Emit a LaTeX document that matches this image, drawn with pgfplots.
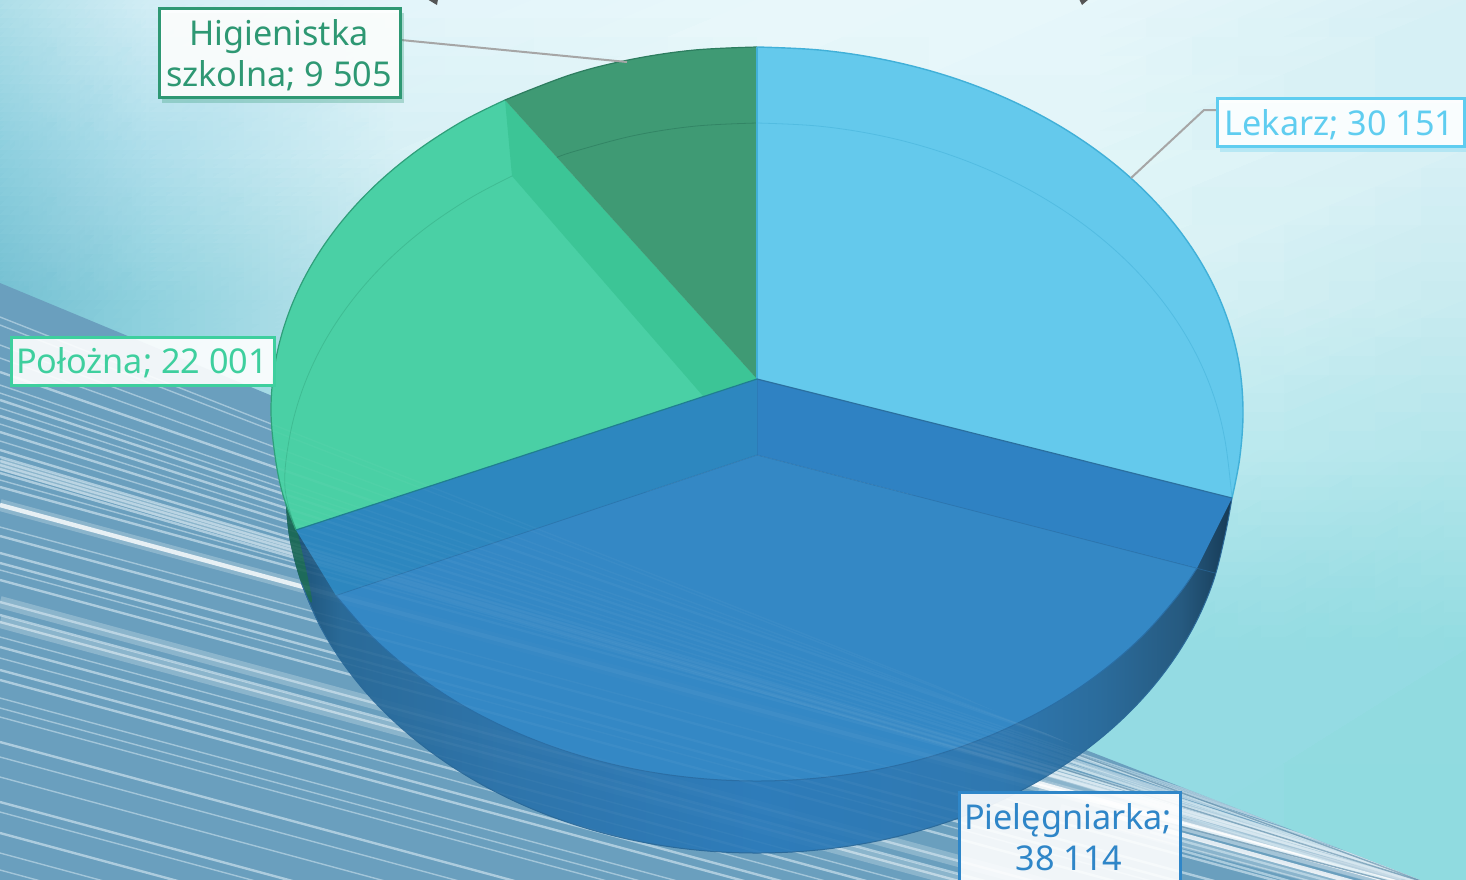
\documentclass[border=0pt]{standalone}
\usepackage{fontspec}
\setmainfont{Noto Sans}
\usepackage{pgfplots}
\pgfplotsset{compat=1.18}
\usepgfplotslibrary{patchplots}
\definecolor{cLek}{HTML}{5FCDF0}
\definecolor{cPie}{HTML}{2F86C8}
\definecolor{cPol}{HTML}{3ECF9E}
\definecolor{cHig}{HTML}{2E9873}
\definecolor{HTMLa}{HTML}{1A4D70}\definecolor{HTMLb}{HTML}{2A6A98}\definecolor{HTMLc}{HTML}{2E74AA}
\definecolor{HTMLd}{HTML}{2E7CBA}\definecolor{HTMLe}{HTML}{2F78B0}\definecolor{HTMLf}{HTML}{2B6C9C}
\definecolor{HTMLg}{HTML}{265A80}\definecolor{HTMLh}{HTML}{163A55}
\definecolor{HTMLband}{HTML}{6A9FBE}\definecolor{HTMLdk}{HTML}{5A8AA8}\definecolor{HTMLst}{HTML}{D5E9F2}
\definecolor{HTMLsliver}{HTML}{1D6A5A}\definecolor{HTMLedge}{HTML}{2B6A9A}
\definecolor{HTMLfloor}{HTML}{3488C5}\definecolor{HTMLline}{HTML}{2A6EA5}
\definecolor{HTMLwallr}{HTML}{2F82C3}\definecolor{HTMLwalll}{HTML}{2D87BF}
\definecolor{HTMLlek}{HTML}{64C9EC}\definecolor{HTMLlekl}{HTML}{41B0D8}
\definecolor{HTMLpol}{HTML}{4AD0A5}\definecolor{HTMLpolw}{HTML}{3CC596}\definecolor{HTMLpoll}{HTML}{2F9F7A}
\definecolor{HTMLhig}{HTML}{3F9A74}\definecolor{HTMLhigl}{HTML}{2D7D5F}
\definecolor{HTMLradl}{HTML}{2A6F9F}\definecolor{HTMLradg}{HTML}{1F7F90}
\definecolor{HTMLgrey}{HTML}{A6A6A6}\definecolor{HTMLstub}{HTML}{555555}
\pgfdeclarehorizontalshading{bandshade}{100bp}{
 color(0bp)=(HTMLa);color(25bp)=(HTMLa);color(28bp)=(HTMLb);color(36.4bp)=(HTMLc);
 color(50bp)=(HTMLd);color(62.8bp)=(HTMLe);color(68bp)=(HTMLf);color(72.3bp)=(HTMLg);
 color(75bp)=(HTMLh);color(100bp)=(HTMLh)}
\pgfplotsset{
 sA/.style={draw=HTMLst,line width=.7pt,opacity=.5,no markers},
 sB/.style={draw=HTMLst,line width=1.2pt,opacity=.6,no markers},
 sC/.style={draw=white,line width=2.2pt,opacity=.8,no markers},
 sD/.style={draw=white,line width=6pt,opacity=.22,no markers},
 sxA/.style={draw=white,line width=.7pt,opacity=.03,no markers},
 sxB/.style={draw=white,line width=1.2pt,opacity=.035,no markers},
 sxC/.style={draw=white,line width=2.2pt,opacity=.035,no markers},
 sxD/.style={draw=white,line width=6pt,opacity=.015,no markers},
 smo/.style={smooth,tension=.6},
}
\newcommand\St[3]{\addplot[#1] coordinates {(0,#2)(1466,#3)};}
\newcommand\stripes[1]{%
 \St{s#1A}{317}{895}\St{s#1A}{325}{893}\St{s#1A}{345}{890}\St{s#1A}{358}{885}\St{s#1B}{372}{880}\St{s#1A}{385}{885}
 \St{s#1A}{393}{885}\St{s#1B}{400}{886}\St{s#1A}{408}{888}\St{s#1B}{416}{888}\St{s#1A}{424}{890}\St{s#1B}{432}{890}\St{s#1A}{441}{892}
 \St{s#1B}{450}{892}\St{s#1D}{464}{893}\St{s#1B}{457}{890}\St{s#1B}{461}{893}\St{s#1B}{465}{892}\St{s#1B}{469}{896}\St{s#1B}{473}{895}
 \St{s#1A}{480}{890}\St{s#1B}{487}{890}\St{s#1D}{505}{901}\St{s#1C}{505}{901}\St{s#1A}{527}{923}\St{s#1B}{536}{932}\St{s#1B}{553}{949}
 \St{s#1B}{563}{959}\St{s#1A}{570}{966}\St{s#1B}{580}{976}\St{s#1D}{602}{998}\St{s#1B}{602}{998}\St{s#1B}{615}{1011}\St{s#1B}{622}{1018}\St{s#1D}{622}{1018}
 \St{s#1A}{637}{1033}\St{s#1B}{647}{1043}\St{s#1A}{658}{1054}\St{s#1B}{670}{1066}\St{s#1B}{680}{1076}\St{s#1A}{698}{1094}\St{s#1A}{708}{1104}\St{s#1A}{717}{1113}
 \St{s#1B}{742}{1138}\St{s#1A}{757}{1153}\St{s#1A}{777}{1173}\St{s#1B}{802}{1198}\St{s#1A}{812}{1208}\St{s#1B}{833}{1229}\St{s#1A}{853}{1249}\St{s#1A}{870}{1266}
}
\begin{document}
\begin{tikzpicture}
\begin{axis}[
 scale only axis, width=733pt, height=439.5pt,
 xmin=0, xmax=1466, ymin=0, ymax=879, y dir=reverse,
 hide axis, clip=true]

% background
\addplot[patch,patch type=rectangle,shader=interp,mesh/color input=explicit,
  table/meta=c] table {
x y c
0 0 .68,.87,.91
150 0 .82,.93,.96
150 150 .68,.87,.92
0 150 .55,.81,.87
150 0 .82,.93,.96
400 0 .89,.96,.98
400 150 .84,.94,.96
150 150 .68,.87,.92
400 0 .89,.96,.98
757 0 .91,.97,.98
757 150 .88,.96,.97
400 150 .84,.94,.96
757 0 .91,.97,.98
1100 0 .90,.965,.98
1100 150 .88,.96,.97
757 150 .88,.96,.97
1100 0 .90,.965,.98
1466 0 .84,.94,.96
1466 150 .84,.94,.96
1100 150 .88,.96,.97
0 150 .55,.81,.87
150 150 .68,.87,.92
150 300 .56,.82,.87
0 300 .45,.75,.82
150 150 .68,.87,.92
400 150 .84,.94,.96
400 300 .75,.90,.93
150 300 .56,.82,.87
400 150 .84,.94,.96
757 150 .88,.96,.97
757 300 .83,.94,.96
400 300 .75,.90,.93
757 150 .88,.96,.97
1100 150 .88,.96,.97
1100 300 .85,.95,.96
757 300 .83,.94,.96
1100 150 .88,.96,.97
1466 150 .84,.94,.96
1466 300 .78,.92,.94
1100 300 .85,.95,.96
0 300 .45,.75,.82
150 300 .56,.82,.87
150 450 .56,.82,.87
0 450 .45,.75,.82
150 300 .56,.82,.87
400 300 .75,.90,.93
400 450 .69,.88,.91
150 450 .56,.82,.87
400 300 .75,.90,.93
757 300 .83,.94,.96
757 450 .77,.92,.94
400 450 .69,.88,.91
757 300 .83,.94,.96
1100 300 .85,.95,.96
1100 450 .75,.92,.94
757 450 .77,.92,.94
1100 300 .85,.95,.96
1466 300 .78,.92,.94
1466 450 .70,.90,.92
1100 450 .75,.92,.94
0 450 .45,.75,.82
150 450 .56,.82,.87
150 650 .56,.82,.87
0 650 .45,.75,.82
150 450 .56,.82,.87
400 450 .69,.88,.91
400 650 .60,.85,.89
150 650 .56,.82,.87
400 450 .69,.88,.91
757 450 .77,.92,.94
757 650 .62,.87,.90
400 650 .60,.85,.89
757 450 .77,.92,.94
1100 450 .75,.92,.94
1100 650 .58,.86,.89
757 650 .62,.87,.90
1100 450 .75,.92,.94
1466 450 .70,.90,.92
1466 650 .57,.86,.88
1100 650 .58,.86,.89
0 650 .45,.75,.82
1100 650 .58,.86,.89
1100 879 .58,.86,.89
0 879 .45,.75,.82
1100 650 .58,.86,.89
1466 650 .57,.86,.88
1466 879 .56,.86,.88
1100 879 .58,.86,.89
};

% diagonal band with stripes
\addplot[fill=HTMLband,draw=none] coordinates {(0,283)(270,395)(1073,745)(1233,807)(1430,884)(0,884)} --cycle;
\begin{scope}
\clip (axis cs:0,283)--(axis cs:270,395)--(axis cs:1073,745)--(axis cs:1233,807)--(axis cs:1430,884)--(axis cs:0,884)--cycle;
\stripes{}
\addplot[sD] coordinates {(1030,770)(1420,884)};
\addplot[sD] coordinates {(1040,785)(1400,884)};
\addplot[sB] coordinates {(1050,745)(1430,884)};
\addplot[sB] coordinates {(1060,758)(1430,884)};
\addplot[sB] coordinates {(1060,763)(1430,884)};
\addplot[sC] coordinates {(1035,782)(1400,884)};
\addplot[sB] coordinates {(1060,778)(1400,884)};
\addplot[sB] coordinates {(1060,792)(1400,884)};
\addplot[sC] coordinates {(1100,812)(1360,884)};
\addplot[sD] coordinates {(1060,810)(1340,884)};
\addplot[sB] coordinates {(1150,832)(1340,884)};
\addplot[sB] coordinates {(1180,850)(1300,884)};
\addplot[draw=HTMLdk,line width=.7pt,opacity=.7,no markers] coordinates {(1060,748)(1430,884)};
\addplot[draw=HTMLdk,line width=.7pt,opacity=.7,no markers] coordinates {(1060,768)(1430,884)};
\addplot[draw=HTMLdk,line width=.7pt,opacity=.7,no markers] coordinates {(1100,805)(1400,884)};
\end{scope}

% side of the slices
\addplot[shade,shading=bandshade,draw=none,smo] coordinates {(285,488)(289,535.6)(301.1,582.5)(320.9,627.7)(348.2,670.5)(382.5,710.2)(423.2,746.1)(469.7,777.6)(521,804.1)(576.4,825.2)(634.8,840.6)(695.4,849.9)(757,853)(818.6,849.9)(879.2,840.6)(937.6,825.2)(993,804.1)(1044.3,777.6)(1090.8,746.1)(1131.5,710.2)(1165.8,670.5)(1193.1,627.7)(1212.9,582.5)(1225,535.6)(1232,498)} --cycle;
\addplot[fill=HTMLsliver,draw=none,smo] coordinates {(285,488)(289,535.6)(301.1,582.5)(312,600)(297,530)(285,488)} --cycle;
\addplot[draw=HTMLedge,line width=.5pt,smo,no markers] coordinates {(301.1,582.5)(320.9,627.7)(348.2,670.5)(382.5,710.2)(423.2,746.1)(469.7,777.6)(521,804.1)(576.4,825.2)(634.8,840.6)(695.4,849.9)(757,853)(818.6,849.9)(879.2,840.6)(937.6,825.2)(993,804.1)(1044.3,777.6)(1090.8,746.1)(1131.5,710.2)(1165.8,670.5)(1193.1,627.7)(1212.9,582.5)(1225,535.6)(1232,498)};

% floor of the blue slice (Pielegniarka; 38 114)
\addplot[fill=HTMLfloor,draw=none,smo] coordinates {(336,595.5)(371.4,635.9)(413.4,672.3)(461.1,704.4)(514,731.3)(571,752.8)(631.2,768.4)(693.6,777.8)(757,781)(820.4,777.8)(882.8,768.4)(943,752.8)(1000,731.3)(1052.9,704.4)(1100.6,672.3)(1142.6,635.9)(1177.9,595.5)(1197,568)} --cycle;
\addplot[fill=HTMLfloor,draw=none] coordinates {(757,455)(1197,568)(1052.9,704.4)(757,781)(461.1,704.4)(336,595.5)} --cycle;
\addplot[draw=HTMLline,line width=.5pt,smo,no markers] coordinates {(336,595.5)(371.4,635.9)(413.4,672.3)(461.1,704.4)(514,731.3)(571,752.8)(631.2,768.4)(693.6,777.8)(757,781)(820.4,777.8)(882.8,768.4)(943,752.8)(1000,731.3)(1052.9,704.4)(1100.6,672.3)(1142.6,635.9)(1177.9,595.5)(1197,568)};
% walls
\addplot[fill=HTMLwallr,draw=none] coordinates {(757,379)(1232,498)(1197,568)(757,455)} --cycle;
\addplot[fill=HTMLwalll,draw=none] coordinates {(757,379)(296,530)(336,595.5)(757,455)} --cycle;
\addplot[draw=HTMLline,opacity=.6,line width=.4pt,no markers] coordinates {(336,595.5)(757,455)(1215,573)};
\addplot[draw=HTMLline,opacity=.35,line width=.4pt,no markers] coordinates {(757,379)(757,455)};

% Lekarz; 30 151
\addplot[fill=HTMLlek,draw=none,smo] coordinates {(757,47)(820.4,50.1)(882.8,59.4)(943,74.6)(1000,95.6)(1052.9,122)(1100.6,153.3)(1142.6,189)(1177.9,228.5)(1206,271.1)(1226.4,316.1)(1238.8,362.6)(1243,410)(1239.8,457.4)(1232,498)} --cycle;
\addplot[fill=HTMLlek,draw=none] coordinates {(757,379)(757,47)(1100.6,153.3)(1232,498)} --cycle;
% Polozna; 22 001
\addplot[fill=HTMLpol,draw=none,smo] coordinates {(505,100)(461.1,122)(413.4,153.3)(371.4,189)(336.1,228.5)(308,271.1)(287.6,316.1)(275.2,362.6)(271,410)(275.2,457.4)(283,495)(296,530)} --cycle;
\addplot[fill=HTMLpol,draw=none] coordinates {(757,379)(505,100)(336.1,228.5)(296,530)} --cycle;
\addplot[fill=HTMLpolw,draw=none] coordinates {(505,100)(512,176)(703,396)(757,379)} --cycle;
% Higienistka szkolna; 9 505
\addplot[fill=HTMLhig,draw=none,smo] coordinates {(757,47)(693.6,50.1)(631.2,59.4)(571,74.6)(505,100)} --cycle;
\addplot[fill=HTMLhig,draw=none] coordinates {(757,379)(757,47)(631.2,59.4)(505,100)} --cycle;

% stripes and band seen through the pie
\begin{scope}
\clip (axis cs:0,283)--(axis cs:270,395)--(axis cs:1073,745)--(axis cs:1233,807)--(axis cs:1430,884)--(axis cs:0,884)--cycle;
\stripes{x}
\end{scope}

% rims and inner lines
\addplot[draw=HTMLlekl,line width=.7pt,smo,no markers] coordinates {(757,47)(820.4,50.1)(882.8,59.4)(943,74.6)(1000,95.6)(1052.9,122)(1100.6,153.3)(1142.6,189)(1177.9,228.5)(1206,271.1)(1226.4,316.1)(1238.8,362.6)(1243,410)(1239.8,457.4)(1232,498)};
\addplot[draw=HTMLlekl,opacity=.5,line width=.4pt,smo,no markers] coordinates {(757,123)(818.6,126.1)(879.2,135.4)(937.6,150.8)(993,171.9)(1044.3,198.4)(1090.8,229.9)(1131.5,265.8)(1165.8,305.5)(1193.1,348.3)(1212.9,393.5)(1225,440.4)(1232,498)};
\addplot[draw=HTMLpoll,line width=.6pt,smo,no markers] coordinates {(505,100)(461.1,122)(413.4,153.3)(371.4,189)(336.1,228.5)(308,271.1)(287.6,316.1)(275.2,362.6)(271,410)(275.2,457.4)(283,495)(296,530)};
\addplot[draw=HTMLpoll,opacity=.4,line width=.4pt,smo,no markers] coordinates {(512,176)(469.7,198.4)(423.2,229.9)(382.5,265.8)(348.2,305.5)(320.9,348.3)(301.1,393.5)(289,440.4)(285,488)(296,530)};
\addplot[draw=HTMLhigl,line width=.6pt,smo,no markers] coordinates {(757,47)(693.6,50.1)(631.2,59.4)(571,74.6)(505,100)};
\addplot[draw=HTMLhigl,opacity=.7,line width=.4pt,smo,no markers] coordinates {(757,123)(695.4,126.1)(634.8,135.4)(576.4,150.8)(557,157.3)};
\addplot[draw=HTMLlekl,line width=.8pt,no markers] coordinates {(757,47)(757,379)};
\addplot[draw=HTMLradl,line width=.6pt,no markers] coordinates {(757,379)(1232,498)};
\addplot[draw=HTMLradg,line width=.6pt,no markers] coordinates {(757,379)(296,530)};

% leader lines
\addplot[draw=HTMLgrey,line width=1pt,no markers] coordinates {(401,40)(627,62)};
\addplot[draw=HTMLgrey,line width=1pt,no markers] coordinates {(1131,178)(1204,110)(1216,110)};
\addplot[fill=HTMLstub,draw=none] coordinates {(427,-1)(438,-1)(437,5)} --cycle;
\addplot[fill=HTMLstub,draw=none] coordinates {(1089,-1)(1079,-1)(1082,5)} --cycle;

% label boxes
\addplot[fill=cHig,fill opacity=.3,draw=none] coordinates {(162,13)(404,13)(404,103)(162,103)} --cycle;
\addplot[fill=cLek,fill opacity=.3,draw=none] coordinates {(1220,103)(1468,103)(1468,152)(1220,152)} --cycle;
\addplot[fill=white,fill opacity=.93,draw=cHig,line width=1.5pt] coordinates {(159,8)(400,8)(400,97)(159,97)} --cycle;
\addplot[fill=white,fill opacity=.93,draw=cLek,line width=1.5pt] coordinates {(1217,98)(1464,98)(1464,146)(1217,146)} --cycle;
\addplot[fill=white,fill opacity=.9,draw=cPol,line width=1.5pt] coordinates {(11,337)(274,337)(274,385)(11,385)} --cycle;
\addplot[fill=white,fill opacity=.9,draw=cPie,line width=1.5pt] coordinates {(959,792)(1180,792)(1180,900)(959,900)} --cycle;
\node[anchor=base,text=cHig,inner sep=0pt,font=\fontsize{17.1}{20}\selectfont] at (axis cs:279,45) {Higienistka};
\node[anchor=base,text=cHig,inner sep=0pt,font=\fontsize{17.1}{20}\selectfont] at (axis cs:279,86) {szkolna; 9 505};
\node[anchor=base,text=cLek,inner sep=0pt,font=\fontsize{17.1}{20}\selectfont] at (axis cs:1339.5,135) {Lekarz; 30 151};
\node[anchor=base,text=cPol,inner sep=0pt,font=\fontsize{17.1}{20}\selectfont] at (axis cs:142,373) {Położna; 22 001};
\node[anchor=base,text=cPie,inner sep=0pt,font=\fontsize{17.1}{20}\selectfont] at (axis cs:1068,829) {Pielęgniarka;};
\node[anchor=base,text=cPie,inner sep=0pt,font=\fontsize{17.1}{20}\selectfont] at (axis cs:1069,870) {38 114};
\end{axis}
\end{tikzpicture}
\end{document}
